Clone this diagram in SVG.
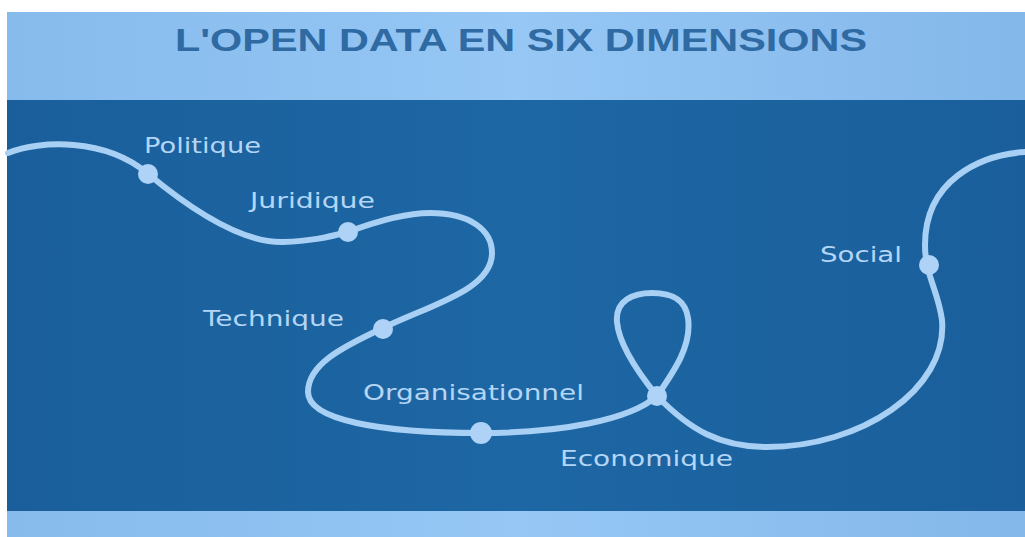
<svg xmlns="http://www.w3.org/2000/svg" width="1025" height="537" viewBox="0 0 1025 537">
<defs>
<linearGradient id="lightBand" x1="0" y1="0" x2="1" y2="0">
<stop offset="0" stop-color="#86bbec"/>
<stop offset="0.5" stop-color="#96c7f5"/>
<stop offset="1" stop-color="#84b8ea"/>
</linearGradient>
<linearGradient id="darkBand" x1="0" y1="0" x2="1" y2="0">
<stop offset="0" stop-color="#1a5f9b"/>
<stop offset="0.5" stop-color="#1d67a4"/>
<stop offset="1" stop-color="#1a5f9b"/>
</linearGradient>
<style>
.lbl{font-family:"DejaVu Sans","Noto Sans",sans-serif;font-size:21px;fill:#b4d6f6;}
.dot{fill:#aed3f6;}
.road{fill:none;stroke:#a8cff4;stroke-width:6;stroke-linecap:round;stroke-linejoin:round;}
</style>
</defs>
<rect x="0" y="0" width="1025" height="537" fill="#ffffff"/>
<rect x="7" y="12" width="1018" height="88" fill="url(#lightBand)"/>
<rect x="7" y="100" width="1018" height="411" fill="url(#darkBand)"/>
<rect x="7" y="511" width="1018" height="26" fill="url(#lightBand)"/>
<text x="521" y="51" text-anchor="middle" font-family="'Liberation Sans Narrow','Liberation Sans',Arial,sans-serif" font-weight="bold" font-size="31" fill="#2f6aa3" textLength="692" lengthAdjust="spacingAndGlyphs">L'OPEN DATA EN SIX DIMENSIONS</text>
<g id="connectors">
<path class="road" d="M 8 153 C 40 140, 105 138, 147 173 S 240 243, 283 242 C 310 241, 325 238, 348 232 C 380 220, 410 213, 430 213 C 470 213, 492 230, 492 253 C 492 290, 430 305, 383 328 C 340 348, 308 365, 308 392 C 308 420, 380 433, 481 433 C 560 433, 630 420, 657 396 C 675 370, 692 345, 688 318 C 685 298, 670 293, 652 293 C 634 293, 615 300, 617 322 C 619 345, 640 375, 657 396 C 690 430, 720 447, 767 447 C 860 447, 948 390, 942 320 C 938 290, 925 275, 925 245 C 925 180, 980 155, 1025 152"/>
</g>
<g id="politique"><circle class="dot" cx="148" cy="174" r="10"/><text class="lbl" x="144" y="153" textLength="117" lengthAdjust="spacingAndGlyphs">Politique</text></g>
<g id="juridique"><circle class="dot" cx="348" cy="232" r="10"/><text class="lbl" x="250" y="208" textLength="125" lengthAdjust="spacingAndGlyphs">Juridique</text></g>
<g id="technique"><circle class="dot" cx="383" cy="329" r="10"/><text class="lbl" x="203" y="326" textLength="141" lengthAdjust="spacingAndGlyphs">Technique</text></g>
<g id="organisationnel"><circle class="dot" cx="481" cy="433" r="11"/><text class="lbl" x="363" y="400" textLength="221" lengthAdjust="spacingAndGlyphs">Organisationnel</text></g>
<g id="economique"><circle class="dot" cx="657" cy="396" r="10"/><text class="lbl" x="560" y="466" textLength="173" lengthAdjust="spacingAndGlyphs">Economique</text></g>
<g id="social"><circle class="dot" cx="929" cy="265" r="10"/><text class="lbl" x="820" y="262" textLength="82" lengthAdjust="spacingAndGlyphs">Social</text></g>
</svg>
